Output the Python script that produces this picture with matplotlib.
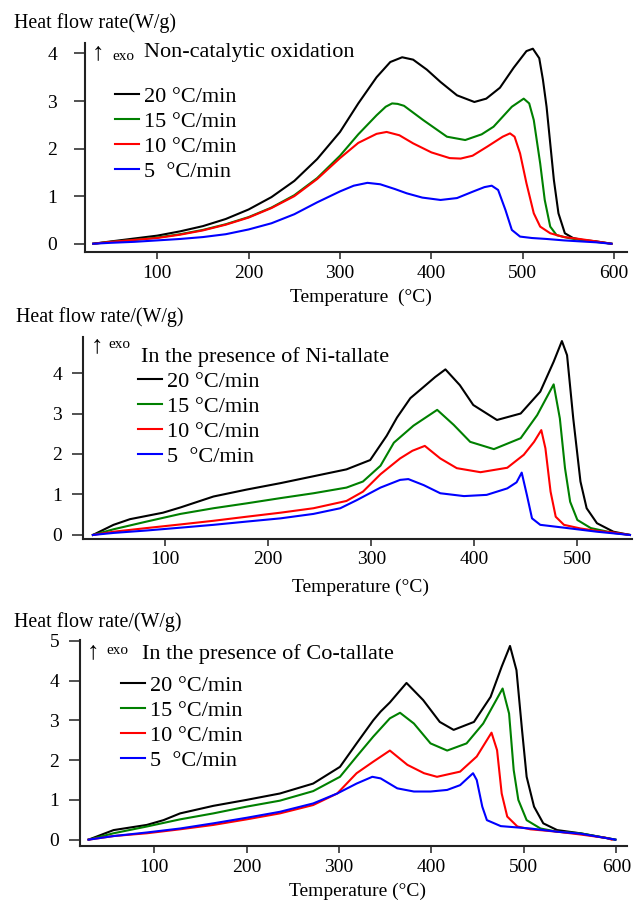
import matplotlib
matplotlib.use('agg')

import matplotlib.pyplot as plt

plt.rcParams['font.family'] = ['Liberation Serif', 'DejaVu Sans']

rates = ['20 °C/min', '15 °C/min', '10 °C/min', '5  °C/min']
colors = ['black', '#008000', '#ff0000', '#0000ff']

# --- Non-catalytic oxidation ---
top_t20 = [30, 50, 75, 100, 125, 150, 175, 200, 225, 250, 275, 300, 320, 340, 355, 368, 380, 395, 410, 428,
           447, 460, 475, 490, 504, 511, 518, 522, 526, 534, 539, 546, 555, 565, 580, 597]
top_q20 = [0, 0.05, 0.11, 0.17, 0.26, 0.37, 0.52, 0.72, 0.98, 1.32, 1.78, 2.35, 2.95, 3.5, 3.82, 3.92, 3.87, 3.66, 3.40, 3.12,
           2.98, 3.05, 3.28, 3.70, 4.05, 4.10, 3.90, 3.45, 2.88, 1.34, 0.64, 0.22, 0.12, 0.08, 0.05, 0]
top_t15 = [30, 50, 75, 100, 125, 150, 175, 200, 225, 250, 275, 300, 320, 340, 350, 357, 363, 370, 391, 417, 437, 455,
           468, 488, 501, 507, 512, 519, 524, 530, 537, 550, 562, 580, 597]
top_q15 = [0, 0.04, 0.08, 0.13, 0.2, 0.29, 0.41, 0.56, 0.76, 1.02, 1.38, 1.85, 2.3, 2.7, 2.88, 2.95, 2.94, 2.9, 2.6, 2.25, 2.18, 2.3,
           2.46, 2.88, 3.05, 2.95, 2.6, 1.69, 0.92, 0.36, 0.18, 0.12, 0.08, 0.04, 0]
top_t10 = [30, 50, 75, 100, 125, 150, 175, 200, 225, 250, 275, 300, 320, 340, 351, 365, 380, 400, 420, 432,
           445, 461, 478, 486, 491, 497, 504, 512, 519, 530, 545, 562, 580, 597]
top_q10 = [0, 0.04, 0.08, 0.12, 0.19, 0.28, 0.4, 0.55, 0.75, 1.0, 1.36, 1.8, 2.12, 2.31, 2.35, 2.28, 2.11, 1.92, 1.8, 1.79,
           1.85, 2.04, 2.25, 2.32, 2.25, 1.9, 1.27, 0.64, 0.36, 0.22, 0.14, 0.1, 0.05, 0]
top_t5 = [30, 50, 75, 100, 125, 150, 175, 200, 225, 250, 275, 300, 315, 330, 344, 360, 373, 390, 410, 428,
          446, 458, 466, 473, 481, 488, 497, 510, 526, 545, 562, 580, 597]
top_q5 = [0, 0.02, 0.04, 0.07, 0.1, 0.14, 0.2, 0.3, 0.43, 0.62, 0.87, 1.1, 1.22, 1.28, 1.25, 1.15, 1.06, 0.97, 0.92, 0.96,
          1.1, 1.19, 1.22, 1.13, 0.71, 0.29, 0.15, 0.12, 0.1, 0.07, 0.05, 0.03, 0]

# --- Ni-tallate ---
ni_t20 = [30, 50, 66, 98, 115, 147, 179, 212, 244, 276, 299, 315, 325, 338, 351, 362, 372, 386, 399, 422,
          445, 464, 477, 485, 490, 496, 503, 509, 519, 535, 551]
ni_q20 = [0, 0.25, 0.39, 0.55, 0.68, 0.95, 1.12, 1.28, 1.45, 1.62, 1.85, 2.45, 2.9, 3.38, 3.66, 3.9, 4.09, 3.70, 3.21, 2.84,
          3.0, 3.54, 4.28, 4.79, 4.44, 2.88, 1.32, 0.66, 0.29, 0.08, 0]
ni_t15 = [30, 50, 82, 115, 147, 179, 212, 244, 276, 292, 309, 322, 341, 364, 380, 396, 419, 445, 461, 477,
          483, 488, 493, 500, 513, 535, 551]
ni_q15 = [0, 0.14, 0.33, 0.52, 0.66, 0.78, 0.91, 1.03, 1.17, 1.32, 1.71, 2.28, 2.7, 3.09, 2.72, 2.30, 2.12, 2.39, 2.96, 3.72,
          2.88, 1.65, 0.82, 0.37, 0.17, 0.05, 0]
ni_t10 = [30, 50, 82, 115, 147, 179, 212, 244, 276, 292, 309, 328, 340, 352, 367, 383, 406, 432, 448, 458,
          465, 469, 474, 479, 487, 503, 519, 535, 551]
ni_q10 = [0, 0.08, 0.17, 0.26, 0.35, 0.45, 0.55, 0.66, 0.84, 1.07, 1.5, 1.89, 2.08, 2.2, 1.89, 1.65, 1.55, 1.66, 1.98, 2.3,
          2.59, 2.14, 1.07, 0.45, 0.25, 0.16, 0.1, 0.06, 0]
ni_t5 = [30, 50, 82, 115, 147, 179, 212, 244, 270, 286, 309, 328, 336, 351, 367, 390, 412, 432, 441, 446,
         451, 456, 464, 487, 519, 551]
ni_q5 = [0, 0.05, 0.11, 0.18, 0.25, 0.33, 0.41, 0.52, 0.66, 0.86, 1.17, 1.36, 1.38, 1.23, 1.03, 0.96, 0.99, 1.15, 1.3, 1.54,
         0.99, 0.41, 0.25, 0.18, 0.08, 0]

# --- Co-tallate ---
co_t20 = [29, 56, 92, 110, 128, 164, 200, 236, 272, 301, 319, 337, 345, 355, 373, 391, 409, 424, 446, 464,
          476, 485, 492, 498, 503, 511, 521, 536, 561, 599]
co_q20 = [0, 0.24, 0.37, 0.49, 0.66, 0.85, 1.0, 1.16, 1.41, 1.83, 2.42, 3.0, 3.22, 3.45, 3.94, 3.51, 2.96, 2.76, 2.96, 3.59,
          4.35, 4.87, 4.26, 2.76, 1.58, 0.83, 0.41, 0.24, 0.16, 0]
co_t15 = [29, 56, 92, 128, 164, 200, 236, 272, 301, 319, 337, 355, 366, 381, 399, 417, 438, 456, 477, 484,
          489, 494, 503, 518, 536, 561, 599]
co_q15 = [0, 0.16, 0.33, 0.51, 0.66, 0.83, 0.98, 1.22, 1.58, 2.09, 2.59, 3.05, 3.19, 2.92, 2.42, 2.24, 2.42, 2.92, 3.8, 3.17,
          1.75, 1.0, 0.49, 0.28, 0.2, 0.16, 0]
co_t10 = [29, 56, 92, 128, 164, 200, 236, 272, 298, 319, 337, 355, 374, 392, 406, 431, 449, 465, 471, 476,
          482, 493, 507, 536, 561, 590, 595]
co_q10 = [0, 0.09, 0.16, 0.26, 0.37, 0.51, 0.66, 0.87, 1.16, 1.67, 1.96, 2.24, 1.88, 1.67, 1.58, 1.71, 2.09, 2.69, 2.25, 1.16,
          0.58, 0.33, 0.26, 0.2, 0.13, 0.04, 0]
co_t5 = [29, 56, 92, 128, 164, 200, 236, 272, 298, 319, 336, 345, 363, 381, 399, 417, 431, 445, 449, 455,
         460, 475, 507, 536, 561, 599]
co_q5 = [0, 0.09, 0.18, 0.28, 0.41, 0.55, 0.7, 0.91, 1.16, 1.41, 1.58, 1.54, 1.29, 1.21, 1.21, 1.25, 1.37, 1.67, 1.5, 0.83,
         0.49, 0.34, 0.28, 0.2, 0.15, 0]

W, H = 634, 901


def px(x, y):
    # pixel position (from top-left) -> figure fraction
    return x / W, 1 - y / H


fig = plt.figure(figsize=(W / 100, H / 100), dpi=100)

panels = [
    dict(rect=(85, 43, 627, 252), xlim=(21, 614), ylim=(-0.174, 4.22), yticks=[0, 1, 2, 3, 4],
         xticks=[100, 200, 300, 400, 500, 600], ypad=12,
         series=[(top_t20, top_q20), (top_t15, top_q15), (top_t10, top_q10), (top_t5, top_q5)],
         ylabel=('Heat flow rate(W/g)', 14, 23), title=('Non-catalytic oxidation', 144, 52),
         arrow=(98, 53), exo=(112, 56), leg=(115, 86), xlabel=('Temperature  (°C)', 361, 297)),
    dict(rect=(83, 337, 632, 539), xlim=(20.4, 553), ylim=(-0.1, 4.89), yticks=[0, 1, 2, 3, 4],
         xticks=[100, 200, 300, 400, 500], ypad=7,
         series=[(ni_t20, ni_q20), (ni_t15, ni_q15), (ni_t10, ni_q10), (ni_t5, ni_q5)],
         ylabel=('Heat flow rate/(W/g)', 16, 317), title=('In the presence of Ni-tallate', 141, 357),
         arrow=(97, 346), exo=(108, 344), leg=(138, 371), xlabel=('Temperature (°C)', 361, 587)),
    dict(rect=(80, 640, 627, 846), xlim=(19.7, 611.6), ylim=(-0.16, 5.02), yticks=[0, 1, 2, 3, 4, 5],
         xticks=[100, 200, 300, 400, 500, 600], ypad=7,
         series=[(co_t20, co_q20), (co_t15, co_q15), (co_t10, co_q10), (co_t5, co_q5)],
         ylabel=('Heat flow rate/(W/g)', 14, 622), title=('In the presence of Co-tallate', 142, 654),
         arrow=(93, 652), exo=(106, 650), leg=(121, 675), xlabel=('Temperature (°C)', 357, 891)),
]

for p in panels:
    x0, y0, x1, y1 = p['rect']
    ax = fig.add_axes([x0 / W, 1 - y1 / H, (x1 - x0) / W, (y1 - y0) / H])
    lines = []
    for (t, q), c, lab in zip(p['series'], colors, rates):
        ln, = ax.plot(t, q, color=c, lw=1.5, label=lab)
        lines.append(ln)
    ax.set_xlim(*p['xlim'])
    ax.set_ylim(*p['ylim'])
    ax.set_xticks(p['xticks'])
    ax.set_yticks(p['yticks'])
    for s in ['top', 'right']:
        ax.spines[s].set_visible(False)
    for s in ['left', 'bottom']:
        ax.spines[s].set_linewidth(1.5)
        ax.spines[s].set_color('#222222')
    ax.tick_params(axis='y', direction='out', length=8, width=1.1, pad=p['ypad'], labelsize=14, color='#222222')
    ax.tick_params(axis='x', direction='out', length=5, width=1.1, pad=4, labelsize=14, color='#222222')

    ax.legend(handles=lines, loc='upper left', frameon=False, fontsize=16,
              bbox_to_anchor=px(*p['leg']), bbox_transform=fig.transFigure,
              handlelength=1.08, handletextpad=0.23, labelspacing=0.2,
              borderaxespad=0, borderpad=0)

    txt, lx, ly = p['ylabel']
    fig.text(*px(lx, ly), txt, fontsize=14.4, ha='left', va='center')
    txt, tx, ty = p['title']
    fig.text(*px(tx, ty), txt, fontsize=16, ha='left', va='center')
    fig.text(*px(*p['arrow']), '↑', fontsize=18, ha='center', va='center')
    fig.text(*px(*p['exo']), 'exo', fontsize=11, ha='left', va='center')
    txt, xx, xy = p['xlabel']
    fig.text(*px(xx, xy), txt, fontsize=14, ha='center', va='center')

plt.savefig('out.png', dpi=100)
